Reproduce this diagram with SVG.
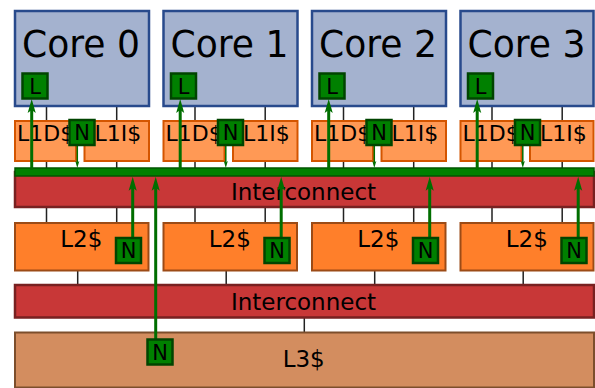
<svg xmlns="http://www.w3.org/2000/svg" width="595" height="388" viewBox="0 0 595 388">
<style>
text{font-family:"DejaVu Sans","Liberation Sans",sans-serif;fill:#000}
.core{fill:#a4b2cf;stroke:#284a8c;stroke-width:2.5}
.l1{fill:#ff9955;stroke:#d45500;stroke-width:2}
.l2{fill:#ff7f2a;stroke:#9c4b16;stroke-width:2}
.ic{fill:#c83737;stroke:#782121;stroke-width:2.5}
.l3{fill:#d38d5f;stroke:#7c4e2c;stroke-width:2}
.gb{fill:#008000;stroke:#005500;stroke-width:1.5}
.tag{fill:#008000;stroke:#004400;stroke-width:2.5}
.bl{stroke:#222;stroke-width:1.5;fill:none}
.ar{stroke:#006e00;stroke-width:3;fill:none;marker-end:url(#ah)}
.ars{stroke:#006e00;stroke-width:1.5;fill:none;marker-end:url(#ah)}
.big{font-size:38px}
.mid{font-size:22px}
.lab{font-size:23px;text-anchor:middle}
.tg{font-size:21px;text-anchor:middle}
</style>
<defs>
<marker id="ah" markerUnits="strokeWidth" viewBox="-5 -1.5 5 3" markerWidth="5" markerHeight="3" refX="-3" refY="0" orient="auto" overflow="visible">
<path d="M0,0 L-4.7,-1.35 L-3.7,0 L-4.7,1.35 z" fill="#006e00"/>
</marker>
</defs>

<g id="links">
<path class="bl" d="M46.5,106V121M116.7,106V121M46.5,161V176M116.7,161V176M46.5,207V223M116.7,207V223M77.7,270V285"/>
<path class="bl" d="M195,106V121M265.2,106V121M195,161V176M265.2,161V176M195,207V223M265.2,207V223M226.2,270V285"/>
<path class="bl" d="M343.5,106V121M413.7,106V121M343.5,161V176M413.7,161V176M343.5,207V223M413.7,207V223M374.7,270V285"/>
<path class="bl" d="M492,106V121M562.2,106V121M492,161V176M562.2,161V176M492,207V223M562.2,207V223M523.2,270V285"/>
<path class="bl" d="M304.3,317V333"/>
</g>

<g id="core0">
<rect class="core" x="15" y="11" width="134" height="95"/>
<text class="big" x="22" y="57.3" textLength="118" lengthAdjust="spacingAndGlyphs">Core 0</text>
</g>
<g id="core1">
<rect class="core" x="163.5" y="11" width="134" height="95"/>
<text class="big" x="170.5" y="57.3" textLength="118" lengthAdjust="spacingAndGlyphs">Core 1</text>
</g>
<g id="core2">
<rect class="core" x="312" y="11" width="134" height="95"/>
<text class="big" x="319" y="57.3" textLength="118" lengthAdjust="spacingAndGlyphs">Core 2</text>
</g>
<g id="core3">
<rect class="core" x="460.5" y="11" width="133" height="95"/>
<text class="big" x="467.5" y="57.3" textLength="118" lengthAdjust="spacingAndGlyphs">Core 3</text>
</g>

<g id="l1d0"><rect class="l1" x="15" y="121" width="61" height="40"/><text class="mid" x="17" y="140.7">L1D$</text></g>
<g id="l1i0"><rect class="l1" x="84.5" y="121" width="64.5" height="40"/><text class="mid" x="94.5" y="140.7">L1I$</text></g>
<g id="l1d1"><rect class="l1" x="163.5" y="121" width="61" height="40"/><text class="mid" x="165.5" y="140.7">L1D$</text></g>
<g id="l1i1"><rect class="l1" x="233" y="121" width="64.5" height="40"/><text class="mid" x="243" y="140.7">L1I$</text></g>
<g id="l1d2"><rect class="l1" x="312" y="121" width="61" height="40"/><text class="mid" x="314" y="140.7">L1D$</text></g>
<g id="l1i2"><rect class="l1" x="381.5" y="121" width="64.5" height="40"/><text class="mid" x="391.5" y="140.7">L1I$</text></g>
<g id="l1d3"><rect class="l1" x="460.5" y="121" width="61" height="40"/><text class="mid" x="462.5" y="140.7">L1D$</text></g>
<g id="l1i3"><rect class="l1" x="530" y="121" width="63.5" height="40"/><text class="mid" x="540" y="140.7">L1I$</text></g>

<g id="interconnect1">
<rect class="ic" x="15" y="172" width="579" height="35"/>
<rect class="gb" x="15" y="168" width="579" height="8"/>
<text class="lab" x="303.5" y="200.3">Interconnect</text>
</g>

<g id="l2_0"><rect class="l2" x="15" y="223" width="133.5" height="47.5"/><text class="lab" x="81.3" y="247">L2$</text></g>
<g id="l2_1"><rect class="l2" x="163.5" y="223" width="133.5" height="47.5"/><text class="lab" x="229.8" y="247">L2$</text></g>
<g id="l2_2"><rect class="l2" x="312" y="223" width="133.5" height="47.5"/><text class="lab" x="378.3" y="247">L2$</text></g>
<g id="l2_3"><rect class="l2" x="460.5" y="223" width="133" height="47.5"/><text class="lab" x="526.8" y="247">L2$</text></g>

<g id="interconnect2">
<rect class="ic" x="15" y="285" width="579" height="32.5"/>
<text class="lab" x="303.5" y="310">Interconnect</text>
</g>

<g id="l3">
<rect class="l3" x="15" y="332.5" width="579" height="55"/>
<text class="lab" x="303.7" y="367">L3$</text>
</g>

<g id="connectors">
<line class="ar" x1="31.7" y1="170" x2="31.7" y2="108"/>
<line class="ar" x1="180.2" y1="170" x2="180.2" y2="108"/>
<line class="ar" x1="328.7" y1="170" x2="328.7" y2="108"/>
<line class="ar" x1="477.2" y1="170" x2="477.2" y2="108"/>
<line class="ars" x1="77.3" y1="146" x2="77.3" y2="163.5"/>
<line class="ars" x1="225.8" y1="146" x2="225.8" y2="163.5"/>
<line class="ars" x1="374.3" y1="146" x2="374.3" y2="163.5"/>
<line class="ars" x1="522.8" y1="146" x2="522.8" y2="163.5"/>
<line class="ar" x1="132.7" y1="238" x2="132.7" y2="185.7"/>
<line class="ar" x1="281.2" y1="238" x2="281.2" y2="185.7"/>
<line class="ar" x1="429.7" y1="238" x2="429.7" y2="185.7"/>
<line class="ar" x1="578.2" y1="238" x2="578.2" y2="185.7"/>
<line class="ar" x1="155.7" y1="340" x2="155.7" y2="185.7"/>
</g>

<g id="L0"><rect class="tag" x="22.5" y="73.5" width="25" height="25"/><text class="tg" x="35" y="93.5">L</text></g>
<g id="L1"><rect class="tag" x="171" y="73.5" width="25" height="25"/><text class="tg" x="183.5" y="93.5">L</text></g>
<g id="L2"><rect class="tag" x="319.5" y="73.5" width="25" height="25"/><text class="tg" x="332" y="93.5">L</text></g>
<g id="L3"><rect class="tag" x="468" y="73.5" width="25" height="25"/><text class="tg" x="480.5" y="93.5">L</text></g>

<g id="N1_0"><rect class="tag" x="69.5" y="120" width="25" height="25"/><text class="tg" x="82" y="140.3">N</text></g>
<g id="N1_1"><rect class="tag" x="218" y="120" width="25" height="25"/><text class="tg" x="230.5" y="140.3">N</text></g>
<g id="N1_2"><rect class="tag" x="366.5" y="120" width="25" height="25"/><text class="tg" x="379" y="140.3">N</text></g>
<g id="N1_3"><rect class="tag" x="515" y="120" width="25" height="25"/><text class="tg" x="527.5" y="140.3">N</text></g>

<g id="N2_0"><rect class="tag" x="116" y="238" width="25" height="25"/><text class="tg" x="128.5" y="258.2">N</text></g>
<g id="N2_1"><rect class="tag" x="264.5" y="238" width="25" height="25"/><text class="tg" x="277" y="258.2">N</text></g>
<g id="N2_2"><rect class="tag" x="413" y="238" width="25" height="25"/><text class="tg" x="425.5" y="258.2">N</text></g>
<g id="N2_3"><rect class="tag" x="561.5" y="238" width="25" height="25"/><text class="tg" x="574" y="258.2">N</text></g>

<g id="N3"><rect class="tag" x="147.5" y="339.5" width="25" height="25"/><text class="tg" x="160" y="359.7">N</text></g>
</svg>
